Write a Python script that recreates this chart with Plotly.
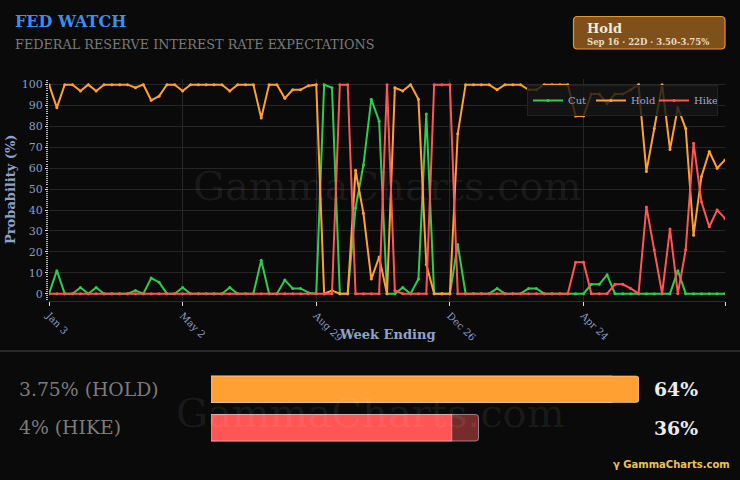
import pandas as pd
import plotly.graph_objects as go

# ---------------- data ----------------
week_ending = pd.date_range("2025-01-03", periods=87, freq="7D")

cut = [
    0, 11, 0, 0, 3, 0, 3, 0, 0, 0,
    0, 1.5, 0, 7.5, 5.5, 0, 0, 3, 0, 0,
    0, 0, 0, 3, 0, 0, 0, 16, 0, 0,
    6.5, 2.5, 2.5, 0.5, 0, 100, 98.5, 0, 0, 41,
    61.5, 93, 82.5, 0, 0, 3, 0, 7, 86, 0,
    0, 0, 23.5, 0, 0, 0, 0, 2.5, 0, 0,
    0, 2.5, 2.5, 0, 0, 0, 0, 0, 0, 4.5,
    4.5, 9, 0, 0, 0, 0, 0, 0, 0, 0,
    11, 0, 0, 0, 0, 0, 0,
]
hold = [
    100, 89, 100, 100, 97, 100, 97, 100, 100, 100,
    100, 98.5, 100, 92.5, 94.5, 100, 100, 97, 100, 100,
    100, 100, 100, 97, 100, 100, 100, 84, 100, 100,
    93.5, 97.5, 97.5, 99.5, 100, 0, 1.5, 0, 0, 59,
    38.5, 7, 17.5, 0, 98.5, 97, 100, 93, 14, 0,
    0, 0, 76.5, 100, 100, 100, 100, 97.5, 100, 100,
    100, 97.5, 97.5, 100, 100, 100, 100, 85, 85, 95.5,
    95.5, 91, 95.5, 95.5, 97.5, 100, 58.5, 79, 100, 69,
    89, 79, 28, 56, 68, 60, 64,
]
hike = [
    0, 0, 0, 0, 0, 0, 0, 0, 0, 0,
    0, 0, 0, 0, 0, 0, 0, 0, 0, 0,
    0, 0, 0, 0, 0, 0, 0, 0, 0, 0,
    0, 0, 0, 0, 0, 0, 0, 100, 100, 0,
    0, 0, 0, 100, 1.5, 0, 0, 0, 0, 100,
    100, 100, 0, 0, 0, 0, 0, 0, 0, 0,
    0, 0, 0, 0, 0, 0, 0, 15, 15, 0,
    0, 0, 4.5, 4.5, 2.5, 0, 41.5, 21, 0, 31,
    0, 21, 72, 44, 32, 40, 36,
]

tick_index = [0, 17, 34, 51, 68, 86]
tick_labels = ["Jan 3", "May 2", "Aug 29", "Dec 26", "Apr 24", "Aug 28"]

outcome_labels = ["4% (HIKE)", "3.75% (HOLD)"]
outcome_current = [36, 64]
outcome_previous = [40, 60]

# ---------------- style ----------------
BG = "#0a0a0a"
SERIF = "DejaVu Serif"
GRID = "#262626"
AXIS_TXT = "#8d9cc0"
C_CUT = "#2ecc50"
C_HOLD = "#ffa033"
C_HIKE = "#ff5555"

# pixel helpers (paper spans x 49..725, y 79..447)
L, R, T, B = 49, 725, 79, 447
def px_x(px):
    return (px - L) / (R - L)
def px_y(py):
    return (B - py) / (B - T)

def rounded_rect(x0, y0, x1, y1, r):
    pts = [
        ("M", [(x0 + r, y0)]),
        ("L", [(x1 - r, y0)]),
        ("Q", [(x1, y0), (x1, y0 + r)]),
        ("L", [(x1, y1 - r)]),
        ("Q", [(x1, y1), (x1 - r, y1)]),
        ("L", [(x0 + r, y1)]),
        ("Q", [(x0, y1), (x0, y1 - r)]),
        ("L", [(x0, y0 + r)]),
        ("Q", [(x0, y0), (x0 + r, y0)]),
    ]
    s = ""
    for cmd, ps in pts:
        s += cmd + " " + " ".join(f"{px_x(a):.5f},{px_y(b):.5f}" for a, b in ps) + " "
    return s + "Z"

fig = go.Figure()

for name, vals, col in [("Cut", cut, C_CUT), ("Hold", hold, C_HOLD), ("Hike", hike, C_HIKE)]:
    fig.add_trace(go.Scatter(
        x=week_ending, y=vals, name=name, mode="lines+markers",
        line=dict(color=col, width=2), marker=dict(color=col, size=3),
        xaxis="x", yaxis="y",
    ))

# bottom outcome bars
fig.add_trace(go.Bar(
    y=outcome_labels, x=outcome_previous, orientation="h",
    marker=dict(color=["rgba(255,85,85,0.45)", "rgba(255,160,51,0.45)"]),
    width=0.69, xaxis="x2", yaxis="y2", showlegend=False, hoverinfo="skip",
))
fig.add_trace(go.Bar(
    y=outcome_labels, x=outcome_current, orientation="h",
    marker=dict(color=[C_HIKE, C_HOLD]),
    width=0.69, xaxis="x2", yaxis="y2", showlegend=False,
))

tickvals = [week_ending[i] for i in tick_index]

fig.update_layout(
    width=740, height=480,
    margin=dict(l=L, r=740 - R, t=T, b=480 - B),
    paper_bgcolor=BG, plot_bgcolor=BG,
    font=dict(family=SERIF, color=AXIS_TXT),
    barmode="overlay", barcornerradius=3,
    showlegend=True,
    legend=dict(
        orientation="h", x=px_x(718), xanchor="right", y=px_y(85), yanchor="top",
        bgcolor="rgba(22,22,22,0.82)", bordercolor="#222222", borderwidth=1,
        font=dict(family=SERIF, size=10, color="#a0aac8"),
        itemwidth=30, tracegroupgap=0, entrywidth=18, entrywidthmode="pixels",
    ),
    xaxis=dict(
        domain=[0, 1], anchor="y", type="date",
        range=[week_ending[0], week_ending[-1]],
        tickvals=tickvals, ticktext=tick_labels, tickangle=45,
        tickfont=dict(family=SERIF, size=10, color=AXIS_TXT),
        showgrid=True, gridcolor=GRID, gridwidth=1,
        ticks="outside", tickcolor="#dddddd", ticklen=4,
        showline=True, linecolor="#2c2c2c", zeroline=False,
    ),
    yaxis=dict(
        domain=[px_y(301), 1], anchor="x",
        range=[-3.5, 102.7], dtick=10, tick0=0,
        tickfont=dict(family=SERIF, size=11, color=AXIS_TXT),
        showgrid=True, gridcolor=GRID, gridwidth=1,
        ticks="outside", tickcolor="#dddddd", ticklen=3,
        minor=dict(dtick=1, ticks="outside", ticklen=2, tickcolor="#bbbbbb", showgrid=False),
        zeroline=False, showline=False,
    ),
    xaxis2=dict(
        domain=[px_x(211), px_x(639)], anchor="y2",
        range=[0, max(outcome_current)], visible=False, fixedrange=True,
    ),
    yaxis2=dict(
        domain=[0, px_y(370)], anchor="x2", type="category",
        categoryorder="array", categoryarray=outcome_labels,
        visible=False, fixedrange=True,
    ),
)

shapes = [
    # separator line
    dict(type="line", xref="paper", yref="paper",
         x0=px_x(0), x1=px_x(740), y0=px_y(351), y1=px_y(351),
         line=dict(color="#2a2a2a", width=2)),
    # badge
    dict(type="path", xref="paper", yref="paper",
         path=rounded_rect(573.5, 16.5, 725, 49, 4),
         fillcolor="#7d501c", line=dict(color="#e8952c", width=1.2)),
]
fig.update_layout(shapes=shapes)

ann = [
    dict(text="<b>FED WATCH</b>", x=px_x(13), y=px_y(22), xanchor="left", yanchor="middle",
         font=dict(family=SERIF, size=16, color="#3d8ef0")),
    dict(text="FEDERAL RESERVE INTEREST RATE EXPECTATIONS", x=px_x(13), y=px_y(44),
         xanchor="left", yanchor="middle",
         font=dict(family=SERIF, size=12.8, color="#7a7a7a")),
    dict(text="<b>Hold</b>", x=px_x(585), y=px_y(28), xanchor="left", yanchor="middle",
         font=dict(family=SERIF, size=13, color="#f5ead8")),
    dict(text="<b>Sep 16 · 22D · 3.50-3.75%</b>", x=px_x(585), y=px_y(41.5), xanchor="left",
         yanchor="middle", font=dict(family=SERIF, size=8.5, color="#eadcc4")),
    # watermarks
    dict(text="GammaCharts.com", x=px_x(387), y=px_y(186), xanchor="center", yanchor="middle",
         font=dict(family=SERIF, size=40, color="rgba(255,255,255,0.07)")),
    dict(text="GammaCharts.com", x=px_x(370), y=px_y(413), xanchor="center", yanchor="middle",
         font=dict(family=SERIF, size=40, color="rgba(255,255,255,0.07)")),
    # axis titles
    dict(text="<b>Probability (%)</b>", x=px_x(10), y=px_y(190), xanchor="center",
         yanchor="middle", textangle=-90,
         font=dict(family=SERIF, size=13, color="#8fa3c8")),
    dict(text="<b>Week Ending</b>", x=px_x(387), y=px_y(334), xanchor="center",
         yanchor="middle", font=dict(family=SERIF, size=13, color="#8fa3c8")),
    # logo
    dict(text="<b>γ GammaCharts.com</b>", x=px_x(732), y=px_y(464), xanchor="right",
         yanchor="middle", font=dict(family="DejaVu Sans", size=10, color="#e8c35a")),
]
for a in ann:
    a.update(xref="paper", yref="paper", showarrow=False)
fig.update_layout(annotations=ann)

# bottom labels + percentages
for lab, cur in zip(outcome_labels, outcome_current):
    fig.add_annotation(text=lab, xref="paper", yref="y2", x=px_x(16.5), y=lab,
                       xanchor="left", yanchor="middle", showarrow=False,
                       font=dict(family=SERIF, size=18.8, color="#7c7c7c"))
    fig.add_annotation(text=f"<b>{cur:.0f}%</b>", xref="paper", yref="y2", x=px_x(652), y=lab,
                       xanchor="left", yanchor="middle", showarrow=False,
                       font=dict(family=SERIF, size=18.8, color="#ececec"))

fig.write_html(
    "out.html",
    config={"displayModeBar": False},
    post_script="document.body.style.margin='0';document.body.style.background='#0a0a0a';",
)
